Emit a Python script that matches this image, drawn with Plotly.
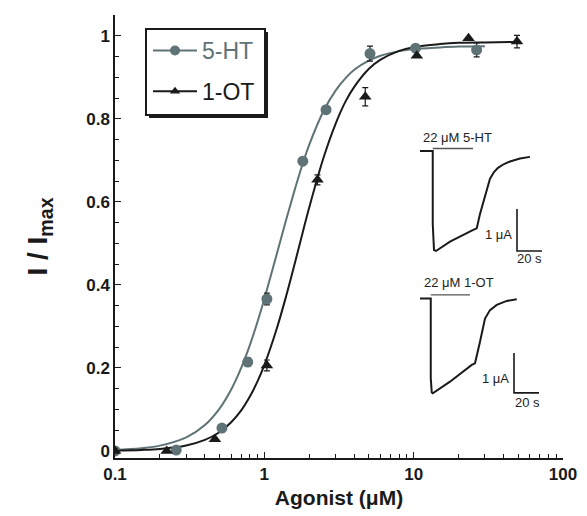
import plotly.graph_objects as go

# ---------------- data ----------------
# measured points (agonist concentration in uM, normalised current)
ht_x = [0.1, 0.257, 0.52, 0.774, 1.04, 1.81, 2.59, 5.1, 10.3, 26.4]
ht_y = [0.0, 0.002, 0.055, 0.214, 0.366, 0.698, 0.822, 0.957, 0.970, 0.966]
ht_err = [0, 0, 0, 0.01, 0.014, 0, 0, 0.018, 0, 0.017]

ot_x = [0.1, 0.222, 0.467, 1.04, 2.27, 4.74, 10.5, 23.3, 49.2]
ot_y = [0.0, 0.0, 0.028, 0.206, 0.653, 0.853, 0.952, 0.994, 0.986]
ot_err = [0, 0, 0, 0.013, 0.012, 0.022, 0, 0, 0.015]

# fitted curves
fit_x = [0.1, 0.15, 0.2, 0.3, 0.4, 0.5, 0.6, 0.7, 0.8, 0.9, 1.0, 1.2, 1.4, 1.6,
         1.8, 2.0, 2.5, 3.0, 3.5, 4.0, 5.0, 6.0, 8.0, 10.0, 15.0, 20.0, 30.0, 50.0]
ht_fit = [0.0025, 0.0065, 0.0128, 0.0327, 0.0625, 0.1015, 0.148, 0.200, 0.255,
          0.311, 0.366, 0.469, 0.557, 0.630, 0.690, 0.738, 0.820, 0.868, 0.898,
          0.918, 0.940, 0.952, 0.963, 0.968, 0.972, 0.974, 0.975, None]
ot_fit = [0.0009, 0.0024, 0.0049, 0.0132, 0.0265, 0.0451, 0.069, 0.0976, 0.131,
          0.1674, 0.2067, 0.290, 0.373, 0.452, 0.524, 0.587, 0.708, 0.788, 0.842,
          0.877, 0.920, 0.9425, 0.9637, 0.9726, 0.980, 0.983, 0.984, 0.985]

x_tickvals = [0.1, 1, 10, 100]
x_ticktext = ["0.1", "1", "10", "100"]
x_minor = [0.2, 0.3, 0.4, 0.5, 0.6, 0.7, 0.8, 0.9, 2, 3, 4, 5, 6, 7, 8, 9,
           20, 30, 40, 50, 60, 70, 80, 90]
y_tickvals = [0, 0.2, 0.4, 0.6, 0.8, 1.0]
y_ticktext = ["0", "0.2", "0.4", "0.6", "0.8", "1"]

# inset current traces (time in s, current in uA)
ins1_t = [8, 18.2, 18.2, 19.2, 20.8, 32, 50.6, 53.4, 56, 59.2, 61.6, 64, 67.2,
          70.4, 75.2, 80, 88, 96]
ins1_i = [0, 0, -1.74, -2.36, -2.38, -2.16, -1.88, -1.84, -1.50, -1.14, -0.90,
          -0.66, -0.50, -0.40, -0.31, -0.25, -0.18, -0.14]
ins1_bar_t = [18.2, 50.4]
ins1_bar_i = [0.06, 0.06]

ins2_t = [8, 16.6, 16.6, 17.4, 18.2, 32, 49.4, 52, 56, 60, 64, 69.4, 77.4, 85.4]
ins2_i = [0, 0, -1.99, -2.35, -2.37, -2.08, -1.66, -1.62, -1.08, -0.50, -0.29,
          -0.16, -0.06, -0.02]
ins2_bar_t = [16.6, 48]
ins2_bar_i = [0.09, 0.09]

sb1_t = [85.6, 85.6, 105.6]
sb1_i = [-1.38, -2.38, -2.38]
sb2_t = [83.2, 83.2, 103.2]
sb2_i = [-1.36, -2.36, -2.36]

GRAY = "#5f7276"
BLACK = "#1a1a1a"
FONT = "Liberation Sans, Arial, sans-serif"

fig = go.Figure()

# fitted curves
fig.add_trace(go.Scatter(x=fit_x, y=ht_fit, mode="lines",
                         line=dict(color=GRAY, width=2, shape="spline", smoothing=1),
                         showlegend=False, hoverinfo="skip"))
fig.add_trace(go.Scatter(x=fit_x, y=ot_fit, mode="lines",
                         line=dict(color=BLACK, width=2, shape="spline", smoothing=1),
                         showlegend=False, hoverinfo="skip"))

# data points
fig.add_trace(go.Scatter(
    x=ht_x, y=ht_y, mode="markers", showlegend=False,
    marker=dict(symbol="circle", size=11, color=GRAY),
    error_y=dict(type="data", array=ht_err, color=BLACK, thickness=1.2, width=3)))
fig.add_trace(go.Scatter(
    x=ot_x, y=ot_y, mode="markers", showlegend=False,
    marker=dict(symbol="triangle-up", size=11, color=BLACK),
    error_y=dict(type="data", array=ot_err, color=BLACK, thickness=1.2, width=3)))

# legend entries
fig.add_trace(go.Scatter(
    x=[None], y=[None], mode="lines+markers", legendgroup="a",
    name="<span style='color:%s'>5-HT</span>" % GRAY,
    line=dict(color=GRAY, width=2), marker=dict(symbol="circle", size=10, color=GRAY)))
fig.add_trace(go.Scatter(
    x=[None], y=[None], mode="lines+markers", legendgroup="b",
    name="1-OT",
    line=dict(color=BLACK, width=2), marker=dict(symbol="triangle-up", size=9, color=BLACK)))

# insets
fig.add_trace(go.Scatter(x=ins1_t, y=ins1_i, xaxis="x2", yaxis="y2", mode="lines",
                         line=dict(color=BLACK, width=2), showlegend=False, hoverinfo="skip"))
fig.add_trace(go.Scatter(x=ins1_bar_t, y=ins1_bar_i, xaxis="x2", yaxis="y2", mode="lines",
                         line=dict(color="#555555", width=1.3), showlegend=False, hoverinfo="skip"))
fig.add_trace(go.Scatter(x=sb1_t, y=sb1_i, xaxis="x2", yaxis="y2", mode="lines",
                         line=dict(color=BLACK, width=1.6), showlegend=False, hoverinfo="skip"))
fig.add_trace(go.Scatter(x=ins2_t, y=ins2_i, xaxis="x3", yaxis="y3", mode="lines",
                         line=dict(color=BLACK, width=2), showlegend=False, hoverinfo="skip"))
fig.add_trace(go.Scatter(x=ins2_bar_t, y=ins2_bar_i, xaxis="x3", yaxis="y3", mode="lines",
                         line=dict(color="#555555", width=1.3), showlegend=False, hoverinfo="skip"))
fig.add_trace(go.Scatter(x=sb2_t, y=sb2_i, xaxis="x3", yaxis="y3", mode="lines",
                         line=dict(color=BLACK, width=1.6), showlegend=False, hoverinfo="skip"))

W, H = 587, 516
L, R, T, B = 115, 24, 15, 58
pw, ph = W - L - R, H - T - B


def px(xp):
    return (xp - L) / pw


def py(yp):
    return (H - B - yp) / ph


small = dict(family=FONT, size=13, color="#222222")
ann = [
    dict(x=8.8, y=0.33, xref="x2", yref="y2", text="22 μM 5-HT", showarrow=False,
         xanchor="left", yanchor="middle", font=small),
    dict(x=83.2, y=-1.98, xref="x2", yref="y2", text="1 μA", showarrow=False,
         xanchor="right", yanchor="middle", font=small),
    dict(x=95.2, y=-2.55, xref="x2", yref="y2", text="20 s", showarrow=False,
         xanchor="center", yanchor="middle", font=small),
    dict(x=9.6, y=0.39, xref="x3", yref="y3", text="22 μM 1-OT", showarrow=False,
         xanchor="left", yanchor="middle", font=small),
    dict(x=80.8, y=-1.99, xref="x3", yref="y3", text="1 μA", showarrow=False,
         xanchor="right", yanchor="middle", font=small),
    dict(x=93.6, y=-2.59, xref="x3", yref="y3", text="20 s", showarrow=False,
         xanchor="center", yanchor="middle", font=small),
]

shapes = [
    # legend frame with drop shadow
    dict(type="rect", xref="paper", yref="paper", x0=px(149), x1=px(268), y0=py(118), y1=py(32),
         fillcolor=BLACK, line=dict(width=0), layer="above"),
    dict(type="rect", xref="paper", yref="paper", x0=px(146), x1=px(265), y0=py(115), y1=py(29),
         fillcolor="white", line=dict(color=BLACK, width=2), layer="above"),
]

fig.update_layout(
    width=W, height=H,
    margin=dict(l=L, r=R, t=T, b=B, autoexpand=False),
    paper_bgcolor="white", plot_bgcolor="white",
    font=dict(family=FONT, color=BLACK),
    showlegend=True,
    legend=dict(x=px(148), y=py(29), xanchor="left", yanchor="top",
                bgcolor="rgba(0,0,0,0)", borderwidth=0,
                font=dict(family=FONT, size=23, color=BLACK),
                itemwidth=44, tracegroupgap=8),
    annotations=ann,
    shapes=shapes,
    xaxis=dict(type="log", range=[-1, 2], showline=True, linecolor=BLACK, linewidth=1.5,
               showgrid=False, zeroline=False, mirror=False, automargin=False,
               tickmode="array", tickvals=x_tickvals, ticktext=x_ticktext,
               ticks="inside", ticklen=6, tickwidth=1.2, tickcolor=BLACK,
               minor=dict(tickmode="array", tickvals=x_minor, ticks="inside", ticklen=4,
                          tickwidth=1, tickcolor=BLACK),
               tickfont=dict(family=FONT, size=17, color=BLACK, weight="bold"),
               title=dict(text="Agonist (μM)", standoff=7,
                          font=dict(family=FONT, size=21, color=BLACK, weight="bold"))),
    yaxis=dict(range=[-0.017, 1.05], showline=True, linecolor=BLACK, linewidth=1.5,
               showgrid=False, zeroline=False, mirror=False, automargin=False,
               tickmode="array", tickvals=y_tickvals, ticktext=y_ticktext,
               ticks="inside", ticklen=6, tickwidth=1.2, tickcolor=BLACK,
               minor=dict(dtick=0.05, ticks="inside", ticklen=4, tickwidth=1, tickcolor=BLACK),
               tickfont=dict(family=FONT, size=17, color=BLACK, weight="bold"),
               title=dict(text="I / I<sub>max</sub>", standoff=30,
                          font=dict(family=FONT, size=28, color=BLACK, weight="bold"))),
    xaxis2=dict(domain=[px(410), px(550)], range=[0, 112], anchor="y2", visible=False),
    yaxis2=dict(domain=[py(270), py(130)], range=[-2.833, 0.5], anchor="x2", visible=False),
    xaxis3=dict(domain=[px(410), px(550)], range=[0, 112], anchor="y3", visible=False),
    yaxis3=dict(domain=[py(415), py(275)], range=[-2.9125, 0.5875], anchor="x3", visible=False),
)

fig.write_html("out.html")
